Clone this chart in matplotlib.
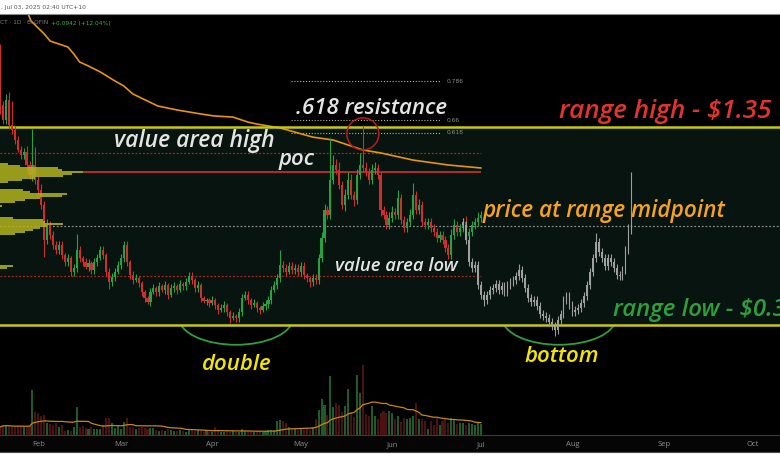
import numpy as np
import pandas as pd
import matplotlib
matplotlib.use("Agg")
import matplotlib.pyplot as plt
from matplotlib.patches import Ellipse, Arc, Rectangle
from matplotlib.lines import Line2D

# ---------------- data (prices in $, days counted from Jan 1 2025 = 0) ----------------
first_day = 18
first_open = 1.749
closes = [
    1.461, 1.385, 1.486, 1.360, 1.335, 1.284, 1.234, 1.209, 1.224, 1.158,
    1.108, 1.158, 1.082, 1.032, 0.956, 0.780, 0.855, 0.805, 0.754, 0.729,
    0.754, 0.704, 0.668, 0.689, 0.618, 0.638, 0.729, 0.689, 0.668, 0.643,
    0.663, 0.628, 0.668, 0.689, 0.729, 0.704, 0.618, 0.567, 0.592, 0.618,
    0.653, 0.689, 0.754, 0.668, 0.603, 0.577, 0.588, 0.562, 0.517, 0.486,
    0.466, 0.517, 0.537, 0.517, 0.547, 0.527, 0.552, 0.501, 0.537, 0.547,
    0.527, 0.557, 0.547, 0.567, 0.597, 0.577, 0.537, 0.552, 0.486, 0.471,
    0.476, 0.461, 0.476, 0.451, 0.426, 0.436, 0.451, 0.416, 0.385, 0.396,
    0.385, 0.416, 0.486, 0.501, 0.476, 0.451, 0.461, 0.436, 0.426, 0.446,
    0.456, 0.476, 0.527, 0.552, 0.588, 0.653, 0.638, 0.618, 0.648, 0.628,
    0.638, 0.618, 0.648, 0.603, 0.588, 0.567, 0.588, 0.577, 0.689, 0.790,
    0.931, 0.906, 1.082, 1.158, 1.133, 1.057, 0.956, 1.007, 1.082, 1.007,
    0.981, 1.108, 1.158, 1.143, 1.123, 1.082, 1.133, 1.143, 1.108, 0.931,
    0.906, 0.855, 0.890, 0.921, 0.906, 0.991, 0.880, 0.840, 0.870, 0.906,
    1.007, 0.931, 0.956, 0.870, 0.855, 0.870, 0.840, 0.820, 0.790, 0.805,
    0.780, 0.739, 0.704, 0.805, 0.855, 0.820, 0.840, 0.870, 0.800, 0.820,
    0.855, 0.870, 0.890, 0.906,
]
upper_wick = [
    0.02, 0.02, 0.03, 0.04, 0.12, 0.02, 0.02, 0.02, 0.02, 0.03,
    0.02, 0.18, 0.09, 0.02, 0.03, 0.02, 0.03, 0.02, 0.02, 0.02,
    0.02, 0.02, 0.01, 0.02, 0.01, 0.02, 0.08, 0.02, 0.01, 0.02,
    0.02, 0.01, 0.02, 0.02, 0.02, 0.02, 0.01, 0.02, 0.02, 0.02,
    0.02, 0.02, 0.02, 0.02, 0.01, 0.02, 0.02, 0.01, 0.01, 0.01,
    0.01, 0.02, 0.02, 0.01, 0.02, 0.01, 0.02, 0.01, 0.02, 0.02,
    0.01, 0.02, 0.01, 0.02, 0.02, 0.02, 0.01, 0.02, 0.01, 0.01,
    0.01, 0.01, 0.02, 0.01, 0.01, 0.02, 0.02, 0.01, 0.01, 0.02,
    0.01, 0.02, 0.02, 0.02, 0.02, 0.01, 0.02, 0.01, 0.01, 0.02,
    0.02, 0.02, 0.02, 0.02, 0.02, 0.075, 0.02, 0.02, 0.02, 0.02,
    0.02, 0.02, 0.02, 0.02, 0.01, 0.01, 0.02, 0.02, 0.02, 0.03,
    0.03, 0.02, 0.21, 0.05, 0.03, 0.04, 0.02, 0.03, 0.04, 0.03,
    0.02, 0.03, 0.06, 0.20, 0.03, 0.02, 0.03, 0.03, 0.02, 0.02,
    0.02, 0.02, 0.03, 0.03, 0.02, 0.04, 0.02, 0.02, 0.02, 0.03,
    0.06, 0.02, 0.03, 0.02, 0.02, 0.02, 0.02, 0.02, 0.02, 0.02,
    0.02, 0.02, 0.02, 0.03, 0.03, 0.02, 0.02, 0.02, 0.03, 0.02,
    0.02, 0.02, 0.03, 0.02,
]
lower_wick = [
    0.045, 0.02, 0.02, 0.02, 0.02, 0.02, 0.01, 0.02, 0.02, 0.02,
    0.02, 0.03, 0.02, 0.02, 0.02, 0.085, 0.02, 0.02, 0.02, 0.02,
    0.02, 0.02, 0.02, 0.02, 0.02, 0.02, 0.02, 0.02, 0.02, 0.01,
    0.02, 0.02, 0.02, 0.02, 0.01, 0.02, 0.02, 0.035, 0.02, 0.02,
    0.01, 0.02, 0.02, 0.02, 0.02, 0.02, 0.01, 0.02, 0.02, 0.02,
    0.01, 0.02, 0.01, 0.02, 0.02, 0.01, 0.02, 0.02, 0.01, 0.02,
    0.02, 0.01, 0.02, 0.02, 0.01, 0.02, 0.02, 0.02, 0.02, 0.01,
    0.02, 0.02, 0.01, 0.02, 0.02, 0.01, 0.02, 0.02, 0.025, 0.01,
    0.02, 0.02, 0.02, 0.01, 0.02, 0.02, 0.01, 0.02, 0.02, 0.01,
    0.02, 0.02, 0.02, 0.01, 0.02, 0.02, 0.02, 0.02, 0.01, 0.02,
    0.02, 0.02, 0.02, 0.02, 0.02, 0.025, 0.02, 0.02, 0.02, 0.02,
    0.02, 0.02, 0.02, 0.02, 0.02, 0.02, 0.02, 0.03, 0.02, 0.02,
    0.03, 0.02, 0.02, 0.02, 0.02, 0.02, 0.02, 0.02, 0.02, 0.03,
    0.02, 0.02, 0.02, 0.02, 0.02, 0.02, 0.02, 0.02, 0.02, 0.02,
    0.02, 0.02, 0.02, 0.02, 0.02, 0.02, 0.02, 0.02, 0.02, 0.02,
    0.02, 0.02, 0.02, 0.02, 0.02, 0.02, 0.02, 0.02, 0.02, 0.02,
    0.02, 0.02, 0.02, 0.02,
]
volumes = [
    8, 10, 10, 9, 8, 8, 9, 9, 8, 9,
    9, 45, 23, 22, 19, 20, 12, 11, 10, 12,
    8, 10, 4, 5, 4, 8, 28, 8, 9, 7,
    6, 8, 6, 6, 6, 10, 17, 17, 12, 7,
    9, 6, 13, 17, 8, 8, 6, 7, 8, 7,
    6, 7, 7, 5, 4, 5, 4, 6, 5, 4,
    4, 5, 4, 3, 5, 6, 4, 5, 4, 3,
    4, 3, 3, 8, 4, 3, 3, 4, 3, 4,
    3, 3, 6, 4, 4, 3, 3, 4, 3, 3,
    4, 5, 5, 5, 14, 15, 14, 12, 8, 6,
    6, 5, 6, 5, 6, 5, 8, 16, 25, 36,
    30, 20, 59, 28, 32, 30, 23, 29, 46, 23,
    18, 60, 42, 70, 21, 19, 29, 19, 16, 22,
    24, 22, 24, 22, 16, 19, 13, 17, 16, 17,
    19, 32, 16, 16, 14, 6, 14, 10, 17, 10,
    14, 17, 12, 17, 15, 11, 12, 12, 10, 12,
    11, 10, 12, 11,
]

# projected (grey) fractal path
proj_first_day = 175
proj_first_open = 0.870
proj_closes = [
    0.855, 0.780, 0.668, 0.638, 0.653, 0.552, 0.501, 0.476, 0.501, 0.527,
    0.537, 0.557, 0.527, 0.547, 0.517, 0.552, 0.567, 0.577, 0.597, 0.628,
    0.588, 0.537, 0.486, 0.466, 0.476, 0.446, 0.406, 0.396, 0.385, 0.365,
    0.345, 0.325, 0.375, 0.406, 0.476, 0.496, 0.451, 0.416, 0.426, 0.436,
    0.461, 0.496, 0.552, 0.618, 0.689, 0.769, 0.719, 0.689, 0.648, 0.689,
    0.668, 0.638, 0.603, 0.597, 0.628, 0.729, 0.830, 0.860,
]
proj_upper_wick = [
    0.02, 0.02, 0.02, 0.02, 0.02, 0.02, 0.02, 0.02, 0.02, 0.02,
    0.02, 0.02, 0.02, 0.02, 0.02, 0.02, 0.02, 0.02, 0.02, 0.03,
    0.02, 0.02, 0.02, 0.02, 0.02, 0.02, 0.02, 0.02, 0.02, 0.02,
    0.02, 0.02, 0.02, 0.02, 0.02, 0.02, 0.02, 0.02, 0.02, 0.02,
    0.02, 0.02, 0.02, 0.02, 0.02, 0.045, 0.02, 0.02, 0.02, 0.02,
    0.02, 0.02, 0.02, 0.02, 0.02, 0.02, 0.03, 0.263,
]
proj_lower_wick = [
    0.02, 0.02, 0.02, 0.02, 0.02, 0.02, 0.02, 0.03, 0.02, 0.02,
    0.02, 0.02, 0.02, 0.02, 0.02, 0.02, 0.02, 0.02, 0.02, 0.02,
    0.02, 0.02, 0.02, 0.02, 0.02, 0.02, 0.02, 0.02, 0.02, 0.02,
    0.02, 0.03, 0.02, 0.02, 0.02, 0.02, 0.02, 0.02, 0.02, 0.02,
    0.02, 0.02, 0.02, 0.02, 0.02, 0.02, 0.02, 0.02, 0.02, 0.02,
    0.02, 0.02, 0.02, 0.02, 0.02, 0.02, 0.02, 0.02,
]

# long moving average on price
ma_days = [27, 28.5, 33, 35, 41, 43, 45, 48, 52, 57, 60, 63, 68, 71.5, 78, 86, 90.5,
           97, 102, 105, 113, 124, 131, 141, 147, 158, 170, 181]
ma_values = [1.941, 1.886, 1.820, 1.784, 1.754, 1.719, 1.678, 1.658, 1.628, 1.582,
             1.557, 1.517, 1.481, 1.456, 1.436, 1.416, 1.406, 1.400, 1.375, 1.365,
             1.345, 1.299, 1.284, 1.234, 1.219, 1.183, 1.158, 1.143]

range_high = 1.35
range_low = 0.35
range_mid = 0.85
value_area_high = 1.219
poc_price = 1.123
value_area_low = 0.597
fib_labels = ["0.786", "0.66", "0.618"]
fib_prices = [1.582, 1.385, 1.320]
fib_start_day, fib_end_day = 116.6, 167.5

profile_prices = [1.163, 1.153, 1.143, 1.133, 1.123, 1.113, 1.103, 1.093, 1.082, 1.072,
                  1.032, 1.022, 1.012, 1.002, 0.991, 0.981, 0.971, 0.951,
                  0.890, 0.880, 0.870, 0.860, 0.850, 0.840, 0.830, 0.820, 0.810,
                  0.648, 0.638]
profile_vols = [8, 20, 58, 62, 83, 72, 63, 35, 22, 8,
                23, 30, 67, 62, 40, 25, 15, 2,
                13, 43, 45, 63, 47, 40, 33, 25, 15,
                13, 7]

month_labels = ["Feb", "Mar", "Apr", "May", "Jun", "Jul", "Aug", "Sep", "Oct"]
month_starts = ["2025-02-01", "2025-03-01", "2025-04-01", "2025-05-01", "2025-06-01",
                "2025-07-01", "2025-08-01", "2025-09-01", "2025-10-01"]

# ---------------- figure ----------------
W, H = 780, 470
fig = plt.figure(figsize=(W / 100, H / 100), dpi=100, facecolor="white")
plt.rcParams["font.family"] = ["Open Sans", "DejaVu Sans"]

def fx(x):
    return x / W

def fy(y):
    return 1 - y / H

ax_top, ax_bot = 14, 435
rect = [0, fy(ax_bot), 1, (ax_bot - ax_top) / H]

# dark strip for the time axis
fig.add_artist(Rectangle((0, fy(452)), 1, (452 - ax_bot) / H, transform=fig.transFigure,
                         facecolor="#050505", edgecolor="none", zorder=-5))
fig.add_artist(Line2D([0, 1], [fy(451.5), fy(451.5)], transform=fig.transFigure,
                      color="#4a4a4a", lw=0.8, zorder=-4))

ax = fig.add_axes(rect, facecolor="black")
ax.set_xlim(18.0, 282.4)
ax.set_ylim(-0.2056, 1.9207)
for s in ["left", "right"]:
    ax.spines[s].set_visible(False)
ax.spines["top"].set_color("#8a8a8a")
ax.spines["top"].set_linewidth(0.8)
ax.spines["bottom"].set_color("#3a3a3a")
ax.spines["bottom"].set_linewidth(0.8)
ax.set_yticks([])
tick_days = [pd.Timestamp(m).dayofyear - 1 for m in month_starts]
ax.set_xticks(tick_days)
ax.set_xticklabels(month_labels)
ax.tick_params(axis="x", length=0, pad=4.2, labelsize=5.5, labelcolor="#8c8c8c")

# range zone
ax.axhspan(range_low, range_high, color="#07140f", zorder=1, lw=0)

# green arcs (drawn under the zone fill)
for cx in [98.0, 207.5]:
    ax.add_patch(Arc((cx, 0.386), 2 * 19.3, 2 * 0.136, theta1=180, theta2=360,
                     color="#2f9e3f", lw=1.3, zorder=0.5))

ax.axhline(range_high, color="#c8c80e", lw=1.8, zorder=3)
ax.axhline(range_low, color="#c8c80e", lw=1.8, zorder=3)
ax.axhline(range_mid, color="#8a8a8a", lw=0.9, ls=(0, (1.5, 1.5)), zorder=2)

last_day = first_day + len(closes) - 1
ax.hlines(value_area_high, 18.0, last_day, color="#b3261e", lw=0.9, ls=(0, (1.5, 1.5)), zorder=2)
ax.hlines(value_area_low, 18.0, last_day, color="#b3261e", lw=0.9, ls=(0, (1.5, 1.5)), zorder=2)
ax.hlines(poc_price, 46.3, last_day, color="#d32f2f", lw=1.2, zorder=2)

for lab, p in zip(fib_labels, fib_prices):
    ax.hlines(p, fib_start_day, fib_end_day, color="#b0b0b0", lw=0.8, ls=(0, (1, 1.6)), zorder=2)
    ax.text(fib_end_day + 2.0, p, lab, color="#8f8f8f", fontsize=4.3, va="center", ha="left",
            family=["DejaVu Sans"])

# long MA
ax.plot(ma_days, ma_values, color="#e8940f", lw=1.2, zorder=2.5)

# candles
c = np.array(closes)
o = np.array([first_open] + closes[:-1])
d = first_day + np.arange(len(c))
hi = np.maximum(o, c) + np.array(upper_wick)
lo = np.minimum(o, c) - np.array(lower_wick)
up = c >= o
cols = np.where(up, "#25a243", "#cf2e2e")
ax.vlines(d, lo, hi, colors=cols, lw=0.8, zorder=4)
ax.bar(d, np.maximum(np.abs(c - o), 0.004), bottom=np.minimum(o, c), width=0.72,
       color=cols, lw=0, zorder=4)

# projection candles (grey)
pc = np.array(proj_closes)
po = np.array([proj_first_open] + proj_closes[:-1])
pd_ = proj_first_day + np.arange(len(pc))
phi = np.maximum(po, pc) + np.array(proj_upper_wick)
plo = np.minimum(po, pc) - np.array(proj_lower_wick)
ax.vlines(pd_, plo, phi, colors="#9c9c9c", lw=0.8, zorder=4.2)
ax.bar(pd_, np.maximum(np.abs(pc - po), 0.004), bottom=np.minimum(po, pc), width=0.55,
       color="#a0a0a0", lw=0, zorder=4.2)

# red circle at the .618
ax.add_patch(Ellipse((141.0, 1.315), 32 / 2.95, 32 / 198, fill=False, edgecolor="#b71c1c",
                     lw=1.1, zorder=5))

# volume pane
vax = fig.add_axes(rect, sharex=ax)
vax.patch.set_visible(False)
vax.set_ylim(0, ax_bot - ax_top)
vax.axis("off")
vcols = np.where(up, "#1f5a29", "#4a1212")
vax.bar(d, volumes, width=0.7, color=vcols, lw=0)
vma = pd.Series(volumes, dtype=float).rolling(20, min_periods=1).mean()
vax.plot(d, vma, color="#c98610", lw=0.9)

# volume profile on the left
pax = fig.add_axes(rect, sharey=ax)
pax.patch.set_visible(False)
pax.set_xlim(0, W)
pax.axis("off")
pax.barh(profile_prices, profile_vols, height=0.0066, left=0, color="#b3b31c", alpha=0.85, lw=0)

# annotations
def label(x, y, s, color, size):
    fig.text(fx(x), fy(y), s, color=color, fontsize=size, ha="left", va="center",
             style="italic", weight="semibold")

label(114, 141, "value area high", "#e4e4e4", 16.5)
label(296, 108, ".618 resistance", "#e4e4e4", 16)
label(279, 160, "poc", "#e4e4e4", 16)
label(559, 112, "range high - $1.35", "#e0342f", 18.8)
label(613, 310, "range low - $0.35", "#2f9e3f", 17.3)
label(483, 211, "price at range midpoint", "#f5a320", 16.3)
label(335, 266, "value area low", "#e4e4e4", 13.3)
label(202, 364, "double", "#f2e600", 16)
label(524, 357, "bottom", "#f2e600", 16)

fig.text(fx(1), fy(7), ", Jul 03, 2025 02:40 UTC+10", color="#555555", fontsize=4.3,
         ha="left", va="center", family=["DejaVu Sans"])
fig.text(fx(0), fy(23), "CT \u00b7 1D \u00b7 BLOFIN", color="#7d7d7d", fontsize=4.2,
         ha="left", va="center", family=["DejaVu Sans"])
fig.text(fx(51), fy(23), "+0.0942 (+12.04%)", color="#3cb043", fontsize=4.2,
         ha="left", va="center", family=["DejaVu Sans"])

fig.savefig("out.png", dpi=100, facecolor="white")
